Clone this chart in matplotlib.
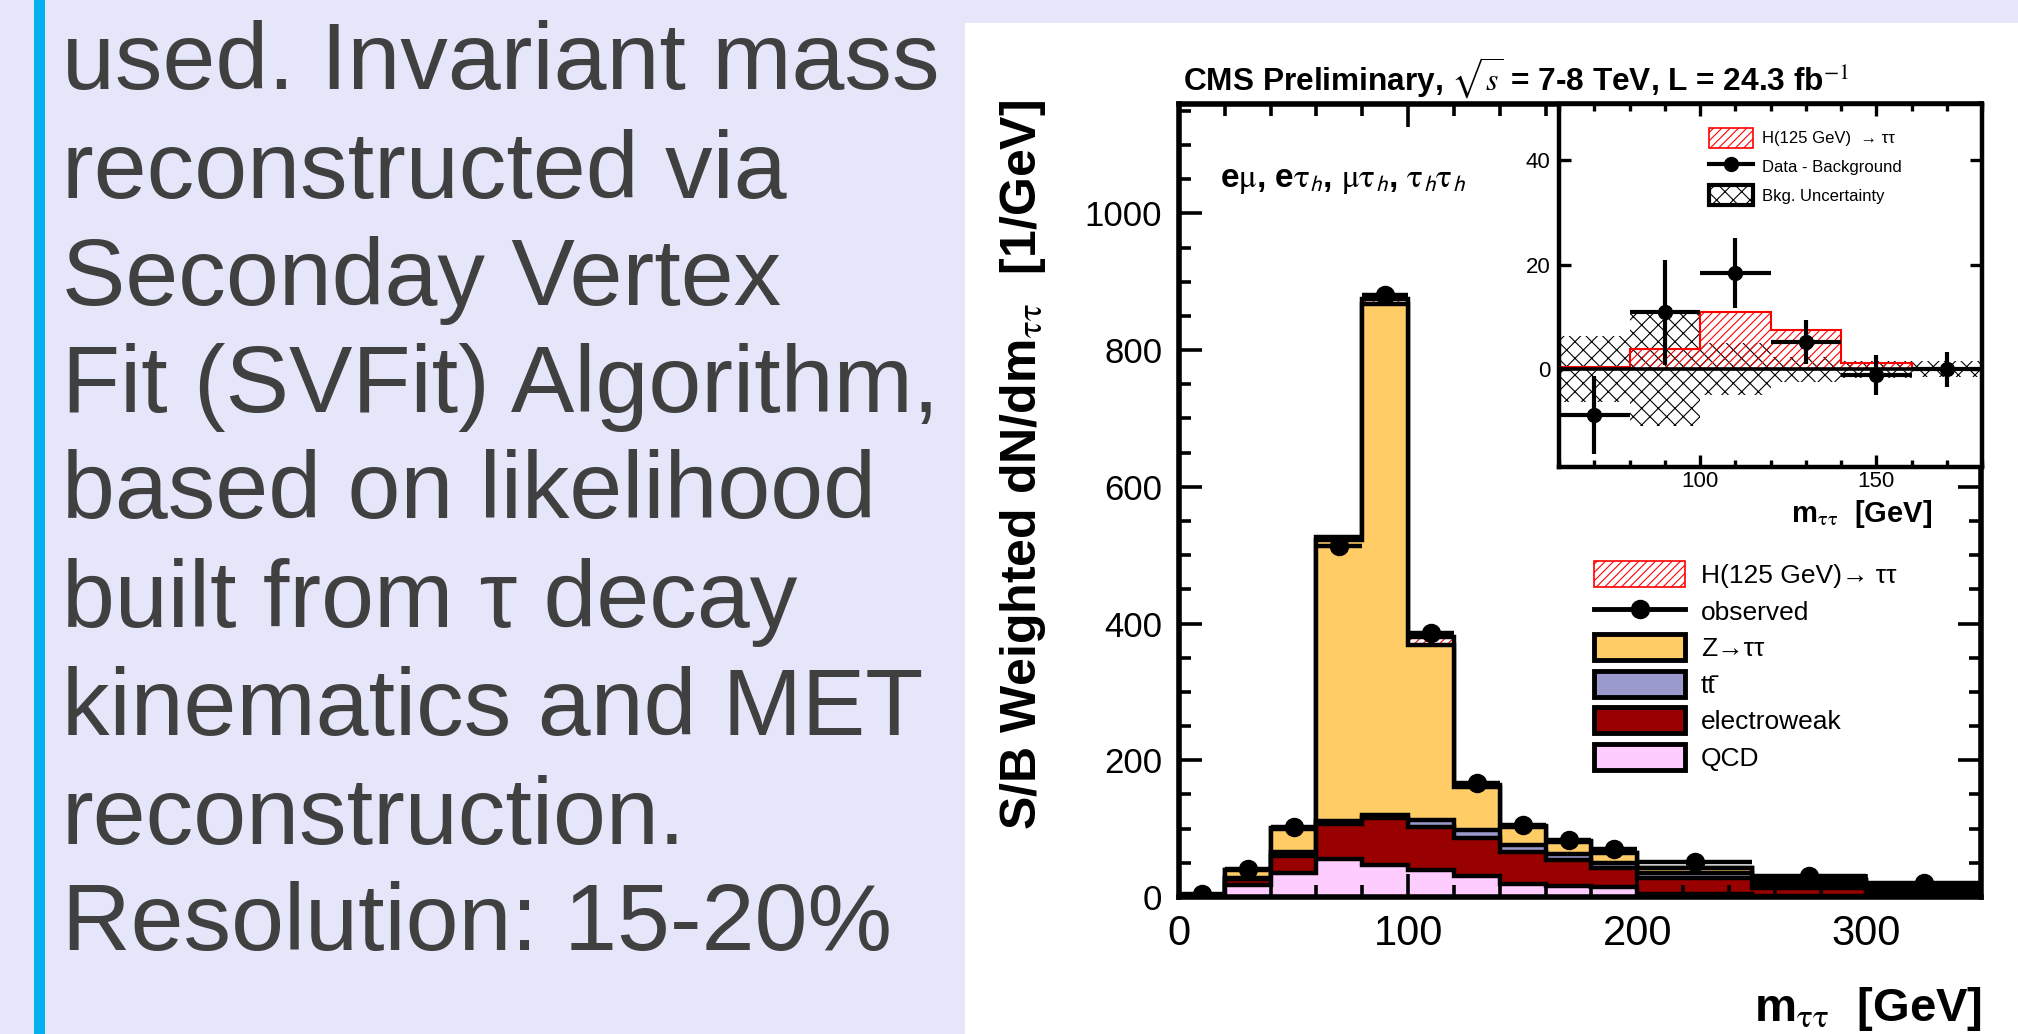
import numpy as np
import matplotlib
matplotlib.use('Agg')
import matplotlib.pyplot as plt
from matplotlib.patches import Patch, Rectangle
from matplotlib.lines import Line2D
from matplotlib.ticker import MultipleLocator

plt.rcParams['font.family'] = ['Liberation Sans', 'DejaVu Sans']
plt.rcParams['mathtext.fontset'] = 'stix'
plt.rcParams['hatch.linewidth'] = 0.8

# slide text on the left
slide_lines = [
    'used. Invariant mass',
    'reconstructed via',
    'Seconday Vertex',
    'Fit (SVFit) Algorithm,',
    'based on likelihood',
    'built from \u03c4 decay',
    'kinematics and MET',
    'reconstruction.',
    'Resolution: 15-20%',
]

# main plot: m_tautau bins and stacked components
edges = [0, 20, 40, 60, 80, 100, 120, 140, 160, 180, 200, 250, 300, 350]
qcd = [0, 18, 35, 56, 47, 40, 30, 19, 16, 14, 4, 1.5, 0.3]
ewk = [0, 8, 25, 51, 68, 62, 56, 47, 38, 28, 24, 11, 4]
ttbar = [0, 2, 6, 4, 5, 10, 12, 10, 9, 8, 7, 6, 4]
ztt = [0.3, 11, 34, 411, 747, 256, 63, 27, 18, 14, 7, 6, 6]
higgs = [0, 0.5, 1, 4, 8, 13, 3, 1, 1, 1, 1, 0.5, 0.5]
observed = [4, 41, 103, 514, 881, 386, 167, 106, 83, 70, 51, 30, 20]

# inset: data minus background
sub_edges = [60, 80, 100, 120, 140, 160, 180]
sub_signal = [0.5, 3.8, 10.9, 7.6, 1.2, 0.0]
sub_bkg_unc = [6.3, 10.8, 5.0, 2.4, 1.6, 1.5]
sub_data = [-8.8, 10.9, 18.5, 5.2, -1.1, 0.0]
sub_err = [7.5, 10.0, 6.7, 4.2, 3.8, 3.4]

W, H = 2018, 1034
def fx(x):
    return x / W
def fy(y):
    return 1 - y / H

fig = plt.figure(figsize=(W / 100, H / 100), dpi=100)
fig.patch.set_facecolor('#E6E6FA')
fig.patches.append(Rectangle((fx(34), 0), fx(45) - fx(34), 1, transform=fig.transFigure,
                             facecolor='#00B0F0', edgecolor='none', zorder=-10))
fig.patches.append(Rectangle((fx(965), 0), 1 - fx(965), fy(23), transform=fig.transFigure,
                             facecolor='white', edgecolor='none', zorder=-10))

baselines = [89, 198, 305, 412, 518, 627, 735, 844, 950]
for line, yb in zip(slide_lines, baselines):
    fig.text(fx(62), fy(yb), line, fontsize=68.5, color='#404040', va='baseline', ha='left')

# ---- main histogram ----
ax = fig.add_axes([fx(1179), fy(897), fx(1981) - fx(1179), fy(104) - fy(897)])
edges = np.array(edges)
cum = np.cumsum([qcd, ewk, ttbar, ztt, higgs], axis=0)
colors = ['#FFCCFF', '#990000', '#9999CC', '#FFCC66']
lw = 3.2

ax.stairs(cum[4], edges, fill=True, facecolor='none', edgecolor='red', hatch='////', linewidth=0)
ax.stairs(cum[4], edges, color='black', linewidth=lw)
for i in [3, 2, 1, 0]:
    ax.stairs(cum[i], edges, fill=True, facecolor=colors[i], edgecolor='black', linewidth=lw)

centers = (edges[:-1] + edges[1:]) / 2
halfw = (edges[1:] - edges[:-1]) / 2
ax.errorbar(centers, observed, xerr=halfw, fmt='o', color='black', ms=13, lw=lw,
            capsize=0, zorder=5)

ax.set_xlim(0, 350)
ax.set_ylim(0, 1160)
ax.xaxis.set_major_locator(MultipleLocator(100))
ax.xaxis.set_minor_locator(MultipleLocator(20))
ax.yaxis.set_major_locator(MultipleLocator(200))
ax.yaxis.set_minor_locator(MultipleLocator(50))
ax.tick_params(which='both', direction='in', top=True, right=True, width=2.6)
ax.tick_params(which='major', length=16.5)
ax.tick_params(which='minor', length=8.3)
ax.tick_params(axis='x', labelsize=30, pad=12)
ax.tick_params(axis='y', labelsize=25, pad=12)
for s in ax.spines.values():
    s.set_linewidth(4)

handles = [
    Patch(facecolor='white', edgecolor='red', hatch='////', linewidth=1.2),
    Line2D([], [], color='black', marker='o', ms=13, lw=3.5),
    Patch(facecolor=colors[3], edgecolor='black', linewidth=3.5),
    Patch(facecolor=colors[2], edgecolor='black', linewidth=3.5),
    Patch(facecolor=colors[1], edgecolor='black', linewidth=3.5),
    Patch(facecolor=colors[0], edgecolor='black', linewidth=3.5),
]
labels = ['H(125 GeV)\u2192 \u03c4\u03c4', 'observed', 'Z\u2192\u03c4\u03c4',
          'tt\u0304', 'electroweak', 'QCD']
ax.legend(handles, labels, loc='upper left', bbox_to_anchor=(fx(1594), fy(561)),
          bbox_transform=fig.transFigure, frameon=False, fontsize=19, borderpad=0,
          borderaxespad=0, handlelength=3.45, handleheight=1.15, labelspacing=0.36,
          handletextpad=0.6)

ax.text(fx(1220), fy(180),
        r'e$\mathrm{\mu}$, e$\mathrm{\tau}_{\mathsf{h}}$, $\mathrm{\mu\tau}_{\mathsf{h}}$, '
        r'$\mathrm{\tau}_{\mathsf{h}}\mathrm{\tau}_{\mathsf{h}}$',
        transform=fig.transFigure, fontsize=24, fontweight='bold', va='center')

fig.text(fx(1183), fy(91), r'CMS Preliminary, $\sqrt{s}$ = 7-8 TeV, L = 24.3 fb$^{-1}$',
         fontsize=22.8, fontweight='bold', va='baseline')
fig.text(fx(1023), fy(465), r'S/B Weighted dN/dm$_{\mathrm{\tau\tau}}$  [1/GeV]', rotation=90,
         fontsize=36, fontweight='bold', ha='center', va='center')
fig.text(fx(1982), fy(1021), r'm$_{\mathrm{\tau\tau}}$  [GeV]', fontsize=34, fontweight='bold',
         ha='right', va='baseline')

# ---- inset ----
ax_in = fig.add_axes([fx(1559), fy(467), fx(1982) - fx(1559), fy(104) - fy(467)])
ax_in.set_facecolor('white')
sub_edges = np.array(sub_edges)
unc = np.array(sub_bkg_unc)
ax_in.stairs(unc, sub_edges, baseline=-unc, fill=True, facecolor='none', edgecolor='black',
             hatch='xx', linewidth=0)
ax_in.stairs(sub_signal, sub_edges, fill=True, facecolor='none', edgecolor='red',
             hatch='////', linewidth=0)
ax_in.axhline(0, color='black', lw=2.6)
ax_in.stairs(sub_signal, sub_edges, color='red', linewidth=1.5)
sub_centers = (sub_edges[:-1] + sub_edges[1:]) / 2
ax_in.errorbar(sub_centers, sub_data, xerr=10, yerr=sub_err, fmt='o', color='black',
               ms=10, lw=3, capsize=0, zorder=5)
ax_in.set_xlim(60, 180)
ax_in.set_ylim(-18.7, 50.8)
ax_in.xaxis.set_major_locator(MultipleLocator(50))
ax_in.xaxis.set_minor_locator(MultipleLocator(10))
ax_in.yaxis.set_major_locator(MultipleLocator(20))
ax_in.tick_params(which='both', direction='in', top=True, right=True, width=2.4, labelsize=16)
ax_in.tick_params(which='major', length=8.4)
ax_in.tick_params(which='minor', length=5)
ax_in.tick_params(axis='x', pad=3)
ax_in.tick_params(axis='y', pad=6)
for s in ax_in.spines.values():
    s.set_linewidth(3.2)

in_handles = [
    Patch(facecolor='white', edgecolor='red', hatch='////', linewidth=1.2),
    Line2D([], [], color='black', marker='o', ms=10, lw=3),
    Patch(facecolor='white', edgecolor='black', hatch='xx', linewidth=3),
]
in_labels = ['H(125 GeV)  \u2192 \u03c4\u03c4', 'Data - Background', 'Bkg. Uncertainty']
ax_in.legend(in_handles, in_labels, loc='upper left', bbox_to_anchor=(fx(1709), fy(128)),
             bbox_transform=fig.transFigure, frameon=False, fontsize=12, borderpad=0,
             borderaxespad=0, handlelength=2.64, handleheight=1.44, labelspacing=0.54,
             handletextpad=0.54)
fig.text(fx(1932), fy(522), r'm$_{\mathrm{\tau\tau}}$  [GeV]', fontsize=21, fontweight='bold',
         ha='right', va='baseline')

fig.savefig('out.png', dpi=100, facecolor=fig.get_facecolor())
